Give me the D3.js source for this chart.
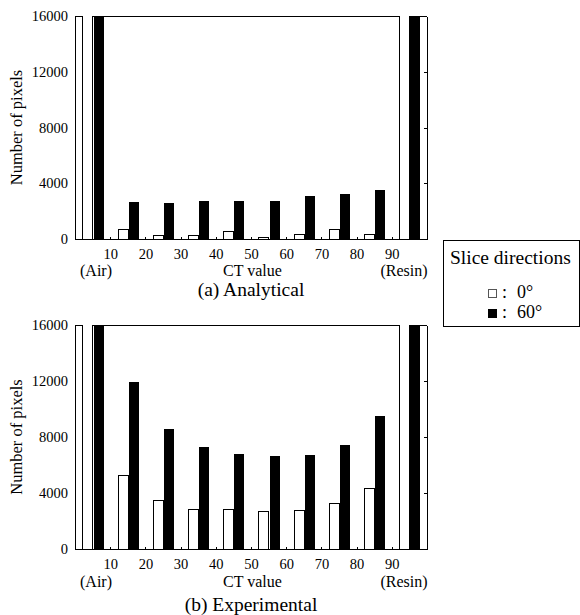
<!DOCTYPE html>
<html>
<head>
<meta charset="utf-8">
<script src="https://cdn.jsdelivr.net/npm/d3@7"></script>
<style>
  body { margin: 0; background: #fff; }
  svg text { font-family: "Liberation Serif", "Times New Roman", "DejaVu Serif", serif; fill: #000; }
</style>
</head>
<body>
<div id="chart"></div>
<script>
// CT value bins (start of each 10-wide bin); the first is Air, the last is Resin
var binStarts = [0, 10, 20, 30, 40, 50, 60, 70, 80, 90];
var ctTicks = [10, 20, 30, 40, 50, 60, 70, 80, 90];
var yTicks = [0, 4000, 8000, 12000, 16000];
var directions = ["0", "60"];

// Air and Resin run far off the top of the scale, so they get clipped
var offScale = 40000;
var analytical0 = [offScale, 750, 300, 300, 550, 120, 390, 720, 390, offScale];
var analytical60 = [offScale, 2700, 2630, 2830, 2830, 2800, 3190, 3300, 3620, offScale];
var experimental0 = [offScale, 5260, 3520, 2880, 2860, 2740, 2810, 3290, 4360, offScale];
var experimental60 = [offScale, 11970, 8640, 7330, 6860, 6710, 6790, 7520, 9570, offScale];

var serif = '"Liberation Serif", "Times New Roman", "DejaVu Serif", serif';

var svg = d3.select("#chart")
  .append("svg")
  .attr("width", 580)
  .attr("height", 615);

var left = 75, right = 427;

var x = d3.scaleLinear().domain([0, 100]).range([left, right]);
var binWidth = x(10) - x(0);
var x1 = d3.scaleBand().domain(directions).range([0, binWidth]).paddingInner(0).paddingOuter(0.73);

function drawPanel(p) {
  var y = d3.scaleLinear().domain([0, 16000]).range([p.bottom, p.top]);
  var g = svg.append("g").attr("shape-rendering", "crispEdges");

  // top frame line first, so clipped bars can cover it
  g.append("line")
    .attr("x1", left).attr("x2", right)
    .attr("y1", p.top + 0.5).attr("y2", p.top + 0.5)
    .attr("stroke", "#000");

  var rows = binStarts.map(function(b, i) {
    return [
      {bin: b, dir: "0", v: p.s0[i]},
      {bin: b, dir: "60", v: p.s60[i]}
    ];
  });
  var bars = [].concat.apply([], rows);

  bars.forEach(function(d) {
    var bx = Math.round(x(d.bin) + x1(d.dir)) + 0.5;
    var bw = Math.round(x1.bandwidth());
    var clipped = d.v > 16000;
    var yt = clipped ? p.top - 0.5 : Math.round(y(d.v)) + 0.5;
    g.append("rect")
      .attr("x", bx).attr("y", yt)
      .attr("width", bw).attr("height", p.bottom - yt)
      .attr("fill", d.dir === "0" ? "#fff" : "#000");
    if (d.dir === "0") {
      var path = clipped
        ? "M" + bx + "," + p.bottom + "V" + yt + "M" + (bx + bw) + "," + yt + "V" + p.bottom
        : "M" + bx + "," + p.bottom + "V" + yt + "H" + (bx + bw) + "V" + p.bottom;
      g.append("path").attr("d", path)
        .attr("fill", "none").attr("stroke", "#000").attr("stroke-width", 1);
    }
  });

  // left axis with labels
  var ya = g.append("g")
    .attr("transform", "translate(" + left + ",0)")
    .call(d3.axisLeft(y).tickValues(yTicks).tickFormat(d3.format("d"))
      .tickSizeInner(0).tickSizeOuter(0).tickPadding(7));
  ya.selectAll("text")
    .style("font-family", serif)
    .style("font-size", "14.5px");

  // right frame with small inward ticks
  g.append("g")
    .attr("transform", "translate(" + right + ",0)")
    .call(d3.axisRight(y).tickValues([4000, 8000, 12000]).tickSizeInner(-3).tickSizeOuter(0).tickFormat(""));

  // bottom axis, CT values on bin edges
  var xa = g.append("g")
    .attr("transform", "translate(0," + p.bottom + ")")
    .call(d3.axisBottom(x).tickValues(ctTicks).tickSizeInner(-2).tickSizeOuter(0).tickPadding(10));
  xa.selectAll("text")
    .style("font-family", serif)
    .style("font-size", "14.5px");

  g.append("text")
    .attr("transform", "translate(21.5," + ((p.top + p.bottom) / 2) + ") rotate(-90)")
    .attr("text-anchor", "middle")
    .style("font-family", serif)
    .style("font-size", "16.5px")
    .text("Number of pixels");

  g.append("text")
    .attr("x", 80).attr("y", p.bottom + p.wordDy)
    .style("font-family", serif)
    .style("font-size", "16px")
    .text("(Air)");
  g.append("text")
    .attr("x", 252.5).attr("y", p.bottom + p.wordDy)
    .attr("text-anchor", "middle")
    .style("font-family", serif)
    .style("font-size", "16px")
    .text("CT value");
  g.append("text")
    .attr("x", 427.5).attr("y", p.bottom + p.wordDy)
    .attr("text-anchor", "end")
    .style("font-family", serif)
    .style("font-size", "16px")
    .text("(Resin)");

  g.append("text")
    .attr("x", 251).attr("y", p.bottom + p.titleDy)
    .attr("text-anchor", "middle")
    .style("font-family", serif)
    .style("font-size", "19.5px")
    .text(p.title);
}

drawPanel({title: "(a) Analytical", top: 16, bottom: 239, s0: analytical0, s60: analytical60, wordDy: 37, titleDy: 57});
drawPanel({title: "(b) Experimental", top: 325, bottom: 549, s0: experimental0, s60: experimental60, wordDy: 38, titleDy: 62});

// Legend
var legend = svg.append("g");
legend.append("rect")
  .attr("x", 443.5).attr("y", 240.5)
  .attr("width", 136).attr("height", 86)
  .attr("fill", "none").attr("stroke", "#000");
legend.append("text")
  .attr("x", 450).attr("y", 264)
  .style("font-family", serif)
  .style("font-size", "19.5px")
  .text("Slice directions");

var legendItems = [
  {dir: "0", label: "0°", y: 298},
  {dir: "60", label: "60°", y: 318}
];
legendItems.forEach(function(d) {
  legend.append("rect")
    .attr("x", 488.5).attr("y", d.y - 8.5)
    .attr("width", 8).attr("height", 8)
    .attr("fill", d.dir === "0" ? "#fff" : "#000")
    .attr("stroke", d.dir === "0" ? "#555" : "#000");
  legend.append("text")
    .attr("x", 502).attr("y", d.y)
    .style("font-family", serif)
    .style("font-size", "18px")
    .text(":");
  legend.append("text")
    .attr("x", 517).attr("y", d.y)
    .style("font-family", serif)
    .style("font-size", "18px")
    .text(d.label);
});
</script>
</body>
</html>
